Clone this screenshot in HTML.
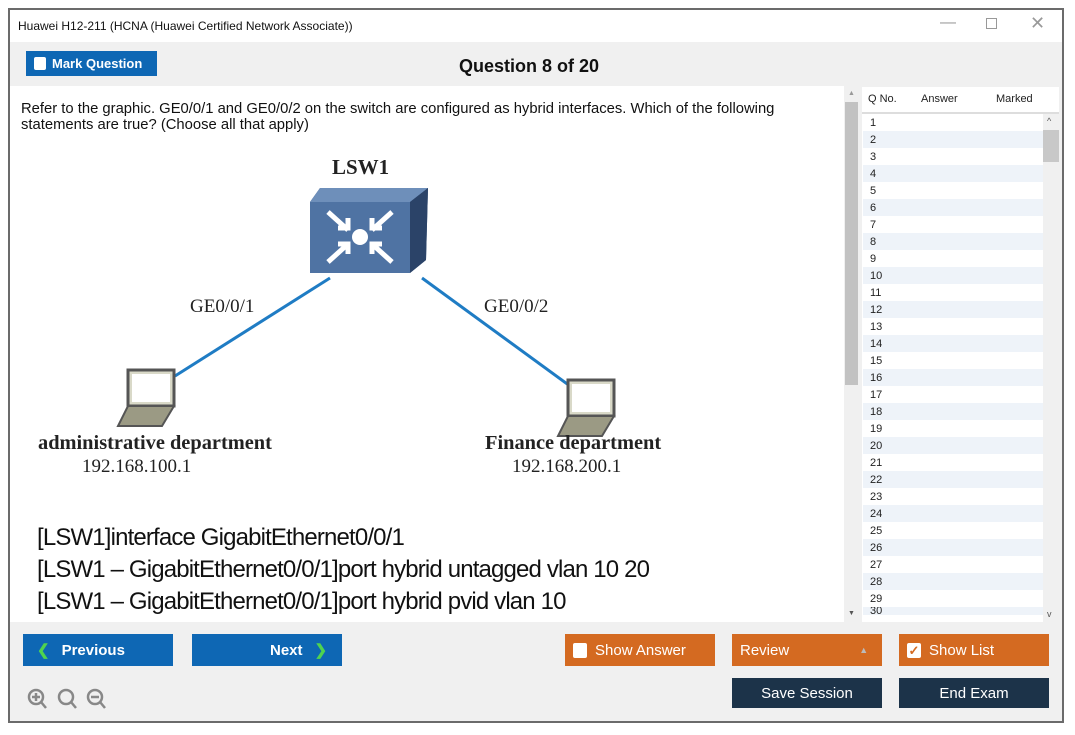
<!DOCTYPE html>
<html><head><meta charset="utf-8"><style>
*{margin:0;padding:0;box-sizing:border-box}
body{width:1075px;height:735px;background:#fff;position:relative;overflow:hidden;font-family:"Liberation Sans",Arial,sans-serif}
.a{position:absolute}
.btn{position:absolute;color:#fff;font-size:15px;display:flex;align-items:center}
.blue{background:#0e67b4}
.org{background:#d46a21}
.dark{background:#1c3349;justify-content:center}
.cb{width:14px;height:15px;background:#fff;border-radius:2px;margin-right:8px}
.serif{font-family:"Liberation Serif",serif;color:#222}
</style></head><body>
<div class="a" style="left:8px;top:8px;width:1056px;height:715px;border:2px solid #6b6b6b;background:#f0f0f0"></div>
<div class="a" style="left:10px;top:10px;width:1052px;height:32px;background:#fff"></div>
<div class="a" style="left:18px;top:19px;font-size:12px;color:#111">Huawei H12-211 (HCNA (Huawei Certified Network Associate))</div>
<div class="a" style="left:940px;top:14px;font-size:16px;color:#999">&#8212;</div>
<div class="a" style="left:986px;top:18px;width:11px;height:11px;border:1px solid #999"></div>
<div class="a" style="left:1030px;top:13px;font-size:18px;color:#999">&#10005;</div>
<div class="btn blue" style="left:26px;top:51px;width:131px;height:25px;padding-left:8px;font-weight:bold;font-size:13px"><div class="cb" style="width:12px;height:13px;margin-right:6px"></div>Mark Question</div>
<div class="a" style="left:459px;top:56px;font-size:18px;font-weight:bold;color:#111">Question 8 of 20</div>
<div class="a" style="left:10px;top:86px;width:834px;height:536px;background:#fff"></div>
<div class="a" style="left:21px;top:101px;font-size:14.8px;color:#111;line-height:16px">Refer to the graphic. GE0/0/1 and GE0/0/2 on the switch are configured as hybrid interfaces. Which of the following<br>statements are true? (Choose all that apply)</div>
<svg class="a" style="left:10px;top:140px" width="834" height="482">
<line x1="320" y1="138" x2="165" y2="236" stroke="#1f7cc4" stroke-width="3"/>
<line x1="412" y1="138" x2="560" y2="246" stroke="#1f7cc4" stroke-width="3"/>
<polygon points="300,62 310,48 418,48 416,120 400,133 300,133" fill="#3a5a85"/>
<rect x="300" y="62" width="100" height="71" fill="#4f73a3"/>
<polygon points="300,62 310,48 418,48 400,62" fill="#6e8fba"/>
<polygon points="400,62 418,48 416,120 400,133" fill="#2b4368"/>
<circle cx="350" cy="97" r="8" fill="#fff"/>
<g stroke="#fff" stroke-width="5" fill="none"><path d="M318,72 L338,90 M328,88 h10 v-10"/><path d="M382,72 L362,90 M372,88 h-10 v-10"/><path d="M318,122 L338,104 M328,104 h10 v10"/><path d="M382,122 L362,104 M372,104 h-10 v10"/></g>
<g transform="translate(110,228)"><rect x="8" y="2" width="46" height="36" fill="#d9d9c8" stroke="#555" stroke-width="3"/><rect x="12" y="6" width="38" height="28" fill="#fff"/><polygon points="8,38 54,38 42,58 -2,58" fill="#9b9a84" stroke="#555" stroke-width="2"/></g>
<g transform="translate(550,238)"><rect x="8" y="2" width="46" height="36" fill="#d9d9c8" stroke="#555" stroke-width="3"/><rect x="12" y="6" width="38" height="28" fill="#fff"/><polygon points="8,38 54,38 42,58 -2,58" fill="#9b9a84" stroke="#555" stroke-width="2"/></g>
</svg>
<div class="a serif" style="left:332px;top:155px;font-size:21px;font-weight:bold">LSW1</div>
<div class="a serif" style="left:190px;top:296px;font-size:19px">GE0/0/1</div>
<div class="a serif" style="left:484px;top:296px;font-size:19px">GE0/0/2</div>
<div class="a serif" style="left:38px;top:432px;font-size:20.4px;font-weight:bold">administrative department</div>
<div class="a serif" style="left:82px;top:456px;font-size:19px">192.168.100.1</div>
<div class="a serif" style="left:485px;top:432px;font-size:20.4px;font-weight:bold">Finance department</div>
<div class="a serif" style="left:512px;top:456px;font-size:19px">192.168.200.1</div>
<div class="a" style="left:37px;top:522px;font-size:24px;color:#111;line-height:32px;letter-spacing:-0.85px">[LSW1]interface GigabitEthernet0/0/1<br>[LSW1 – GigabitEthernet0/0/1]port hybrid untagged vlan 10 20<br>[LSW1 – GigabitEthernet0/0/1]port hybrid pvid vlan 10</div>
<div class="a" style="left:845px;top:86px;width:14px;height:536px;background:#f0f0f0"></div>
<div class="a" style="left:845px;top:102px;width:13px;height:283px;background:#c2c2c2"></div>
<div class="a" style="left:848px;top:90px;font-size:7px;color:#999">▲</div>
<div class="a" style="left:848px;top:610px;font-size:7px;color:#555">▼</div>
<div class="a" style="left:862px;top:87px;width:197px;height:535px;background:#fff"></div>
<div class="a" style="left:868px;top:93px;font-size:11px;color:#222">Q No.</div>
<div class="a" style="left:921px;top:93px;font-size:11px;color:#222">Answer</div>
<div class="a" style="left:996px;top:93px;font-size:11px;color:#222">Marked</div>
<div class="a" style="left:862px;top:112px;width:197px;height:2px;background:#ddd"></div>
<div class="a" style="left:1043px;top:114px;width:16px;height:508px;background:#f0f0f0"></div>
<div class="a" style="left:1043px;top:130px;width:16px;height:32px;background:#c8c8c8"></div>
<div class="a" style="left:1047px;top:116px;font-size:9px;color:#555">^</div>
<div class="a" style="left:1047px;top:609px;font-size:9px;color:#555">v</div>
<div class="a" style="left:863px;top:114px;width:180px;font-size:11px;color:#222">
<div style="height:17px;padding:3px 0 0 7px">1</div><div style="height:17px;padding:3px 0 0 7px;background:#eef3f9">2</div><div style="height:17px;padding:3px 0 0 7px">3</div><div style="height:17px;padding:3px 0 0 7px;background:#eef3f9">4</div><div style="height:17px;padding:3px 0 0 7px">5</div><div style="height:17px;padding:3px 0 0 7px;background:#eef3f9">6</div><div style="height:17px;padding:3px 0 0 7px">7</div><div style="height:17px;padding:3px 0 0 7px;background:#eef3f9">8</div><div style="height:17px;padding:3px 0 0 7px">9</div><div style="height:17px;padding:3px 0 0 7px;background:#eef3f9">10</div><div style="height:17px;padding:3px 0 0 7px">11</div><div style="height:17px;padding:3px 0 0 7px;background:#eef3f9">12</div><div style="height:17px;padding:3px 0 0 7px">13</div><div style="height:17px;padding:3px 0 0 7px;background:#eef3f9">14</div><div style="height:17px;padding:3px 0 0 7px">15</div><div style="height:17px;padding:3px 0 0 7px;background:#eef3f9">16</div><div style="height:17px;padding:3px 0 0 7px">17</div><div style="height:17px;padding:3px 0 0 7px;background:#eef3f9">18</div><div style="height:17px;padding:3px 0 0 7px">19</div><div style="height:17px;padding:3px 0 0 7px;background:#eef3f9">20</div><div style="height:17px;padding:3px 0 0 7px">21</div><div style="height:17px;padding:3px 0 0 7px;background:#eef3f9">22</div><div style="height:17px;padding:3px 0 0 7px">23</div><div style="height:17px;padding:3px 0 0 7px;background:#eef3f9">24</div><div style="height:17px;padding:3px 0 0 7px">25</div><div style="height:17px;padding:3px 0 0 7px;background:#eef3f9">26</div><div style="height:17px;padding:3px 0 0 7px">27</div><div style="height:17px;padding:3px 0 0 7px;background:#eef3f9">28</div><div style="height:17px;padding:3px 0 0 7px">29</div><div style="height:8px;padding:0 0 0 7px;background:#eef3f9;overflow:hidden;line-height:8px">30</div>
</div>
<div class="btn blue" style="left:23px;top:634px;width:150px;height:32px;padding-left:14px;font-weight:bold"><span style="color:#4fd34f;margin-right:12px">&#10094;</span>Previous</div>
<div class="btn blue" style="left:192px;top:634px;width:150px;height:32px;padding-left:78px;font-weight:bold">Next<span style="color:#4fd34f;margin-left:12px">&#10095;</span></div>
<div class="btn org" style="left:565px;top:634px;width:150px;height:32px;padding-left:8px"><div class="cb"></div>Show Answer</div>
<div class="btn org" style="left:732px;top:634px;width:150px;height:32px;padding-left:8px">Review<span style="margin-left:70px;font-size:9px;color:#bbb">▲</span></div>
<div class="btn org" style="left:899px;top:634px;width:150px;height:32px;padding-left:8px"><div class="cb" style="color:#d46a21;font-size:13px;line-height:15px;text-align:center;font-weight:bold">&#10003;</div>Show List</div>
<div class="btn dark" style="left:732px;top:678px;width:150px;height:30px">Save Session</div>
<div class="btn dark" style="left:899px;top:678px;width:150px;height:30px">End Exam</div>
<svg class="a" style="left:26px;top:687px" width="85" height="26">
<g stroke="#888" stroke-width="2.5" fill="none"><circle cx="10" cy="10" r="7"/><line x1="15" y1="15" x2="20" y2="21"/><line x1="6" y1="10" x2="14" y2="10"/><line x1="10" y1="6" x2="10" y2="14"/>
<circle cx="40" cy="10" r="7"/><line x1="45" y1="15" x2="50" y2="21"/>
<circle cx="69" cy="10" r="7"/><line x1="74" y1="15" x2="79" y2="21"/><line x1="65" y1="10" x2="73" y2="10"/></g></svg>
</body></html>
